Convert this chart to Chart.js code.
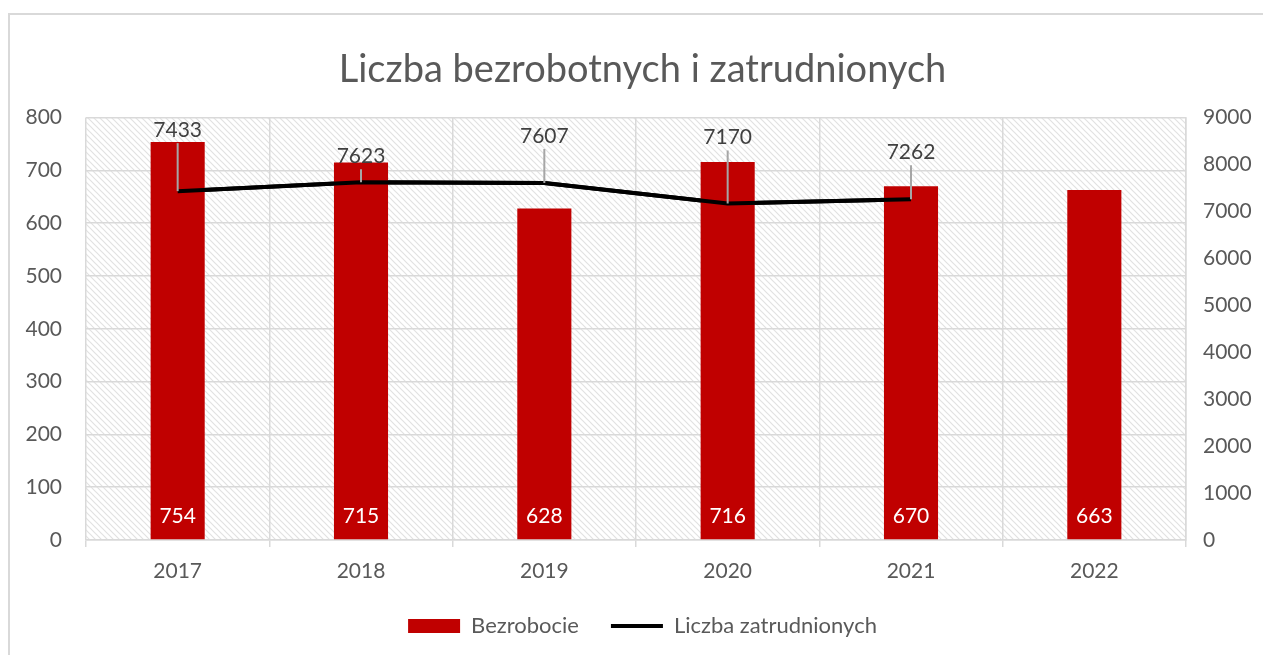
<!DOCTYPE html>
<html>
<head>
<meta charset="utf-8">
<script src="https://cdn.jsdelivr.net/npm/chart.js@4.4.0/dist/chart.umd.min.js"></script>
<style>
  html, body { margin: 0; padding: 0; background: #fff; overflow: hidden; }
  #frame { position: absolute; left: 8px; top: 13px; width: 1400px; height: 800px;
           border-left: 2px solid #d9d9d9; border-top: 2px solid #d9d9d9; box-sizing: border-box; }
  #wrap { position: absolute; left: 0; top: 0; width: 1263px; height: 655px; }
</style>
</head>
<body>
<div id="frame"></div>
<div id="wrap"><canvas id="c" width="1263" height="655"></canvas></div>
<script>
const categories = ['2017', '2018', '2019', '2020', '2021', '2022'];
const bezrobocie = [754, 715, 628, 716, 670, 663];
const zatrudnieni = [7433, 7623, 7607, 7170, 7262, null];
const leftTicks = [0, 100, 200, 300, 400, 500, 600, 700, 800];
const rightTicks = [0, 1000, 2000, 3000, 4000, 5000, 6000, 7000, 8000, 9000];
// pixel offsets of the line data labels above their points (style)
const lineLabelOffsets = [-61, -26, -47, -66, -47];

const FONT = 'Lato, "Open Sans", sans-serif';
const GREY_TXT = '#595959';
const GRID = '#d9d9d9';
const FS = 21;

function makeHatch() {
  const t = document.createElement('canvas');
  t.width = 6; t.height = 6;
  const g = t.getContext('2d');
  g.fillStyle = '#fff'; g.fillRect(0, 0, 6, 6);
  g.strokeStyle = '#e2e2e2'; g.lineWidth = 1.2;
  g.beginPath();
  g.moveTo(-1, -1); g.lineTo(7, 7);
  g.moveTo(-1, 5); g.lineTo(1, 7);
  g.moveTo(5, -1); g.lineTo(7, 1);
  g.stroke();
  return t;
}

const hatchPlugin = {
  id: 'hatch',
  beforeDraw(chart) {
    const {ctx, chartArea: a} = chart;
    ctx.save();
    ctx.fillStyle = ctx.createPattern(makeHatch(), 'repeat');
    ctx.fillRect(a.left, a.top, a.right - a.left, a.bottom - a.top);
    ctx.restore();
  }
};

const labelsPlugin = {
  id: 'labels',
  afterDatasetsDraw(chart) {
    const {ctx, chartArea: a} = chart;
    ctx.save();
    const barMeta = chart.getDatasetMeta(0);
    ctx.font = FS + 'px ' + FONT;
    ctx.fillStyle = '#ffffff';
    ctx.textAlign = 'center';
    ctx.textBaseline = 'middle';
    barMeta.data.forEach((el, i) => {
      ctx.fillText(String(bezrobocie[i]), el.x, a.bottom - 24);
    });
    const lineMeta = chart.getDatasetMeta(1);
    lineMeta.data.forEach((el, i) => {
      if (zatrudnieni[i] == null) return;
      const ly = el.y + lineLabelOffsets[i];
      ctx.strokeStyle = '#a6a6a6';
      ctx.lineWidth = 2;
      ctx.beginPath();
      ctx.moveTo(el.x, ly + 13);
      ctx.lineTo(el.x, el.y);
      ctx.stroke();
      ctx.fillStyle = '#404040';
      ctx.fillText(String(zatrudnieni[i]), el.x, ly);
    });
    ctx.restore();
  }
};

const lineOnTop = {
  id: 'lineOnTop',
  afterDatasetsDraw(chart) {
    chart.getDatasetMeta(1).controller.draw();
  }
};

new Chart(document.getElementById('c'), {
  type: 'bar',
  data: {
    labels: categories,
    datasets: [
      {
        label: 'Bezrobocie',
        data: bezrobocie,
        backgroundColor: '#c00000',
        borderWidth: 0,
        yAxisID: 'y',
        barPercentage: 0.295,
        categoryPercentage: 1,
        pointStyle: 'rect'
      },
      {
        type: 'line',
        label: 'Liczba zatrudnionych',
        data: zatrudnieni,
        borderColor: '#000000',
        backgroundColor: '#000000',
        borderWidth: 4,
        pointRadius: 0,
        tension: 0,
        yAxisID: 'y1',
        pointStyle: 'line'
      }
    ]
  },
  options: {
    responsive: false,
    animation: false,
    layout: { padding: { left: 22, bottom: 8 } },
    plugins: {
      tooltip: { enabled: false },
      title: {
        display: true,
        text: 'Liczba bezrobotnych i zatrudnionych',
        color: GREY_TXT,
        font: { family: FONT, size: 38, weight: 'normal' },
        padding: { top: 47, bottom: 25 }
      },
      legend: {
        position: 'bottom',
        labels: {
          usePointStyle: true,
          pointStyleWidth: 52,
          boxHeight: 14,
          color: GREY_TXT,
          font: { family: FONT, size: 22 },
          padding: 32
        }
      }
    },
    scales: {
      x: {
        grid: { display: true, offset: true, color: GRID, lineWidth: 1.5, tickLength: 7, drawTicks: true, tickColor: GRID },
        border: { display: true, color: GRID, width: 1.5 },
        ticks: { color: GREY_TXT, font: { family: FONT, size: FS }, padding: 12 },
        afterFit(s) { s.height = 43; }
      },
      y: {
        position: 'left',
        min: 0, max: 800,
        afterBuildTicks(s) { s.ticks = leftTicks.map(v => ({ value: v })); },
        grid: { color: GRID, lineWidth: 1.5, drawTicks: false },
        border: { display: false },
        ticks: { color: GREY_TXT, font: { family: FONT, size: FS }, padding: 24, callback: v => String(v) },
        afterFit(s) { s.width = 64; }
      },
      y1: {
        position: 'right',
        min: 0, max: 9000,
        afterBuildTicks(s) { s.ticks = rightTicks.map(v => ({ value: v })); },
        grid: { display: false, drawTicks: false },
        border: { display: true, color: GRID, width: 1.5 },
        ticks: { color: GREY_TXT, font: { family: FONT, size: FS }, padding: 17, callback: v => String(v) },
        afterFit(s) { s.width = 77; }
      }
    }
  },
  plugins: [hatchPlugin, lineOnTop, labelsPlugin]
});
</script>
</body>
</html>
